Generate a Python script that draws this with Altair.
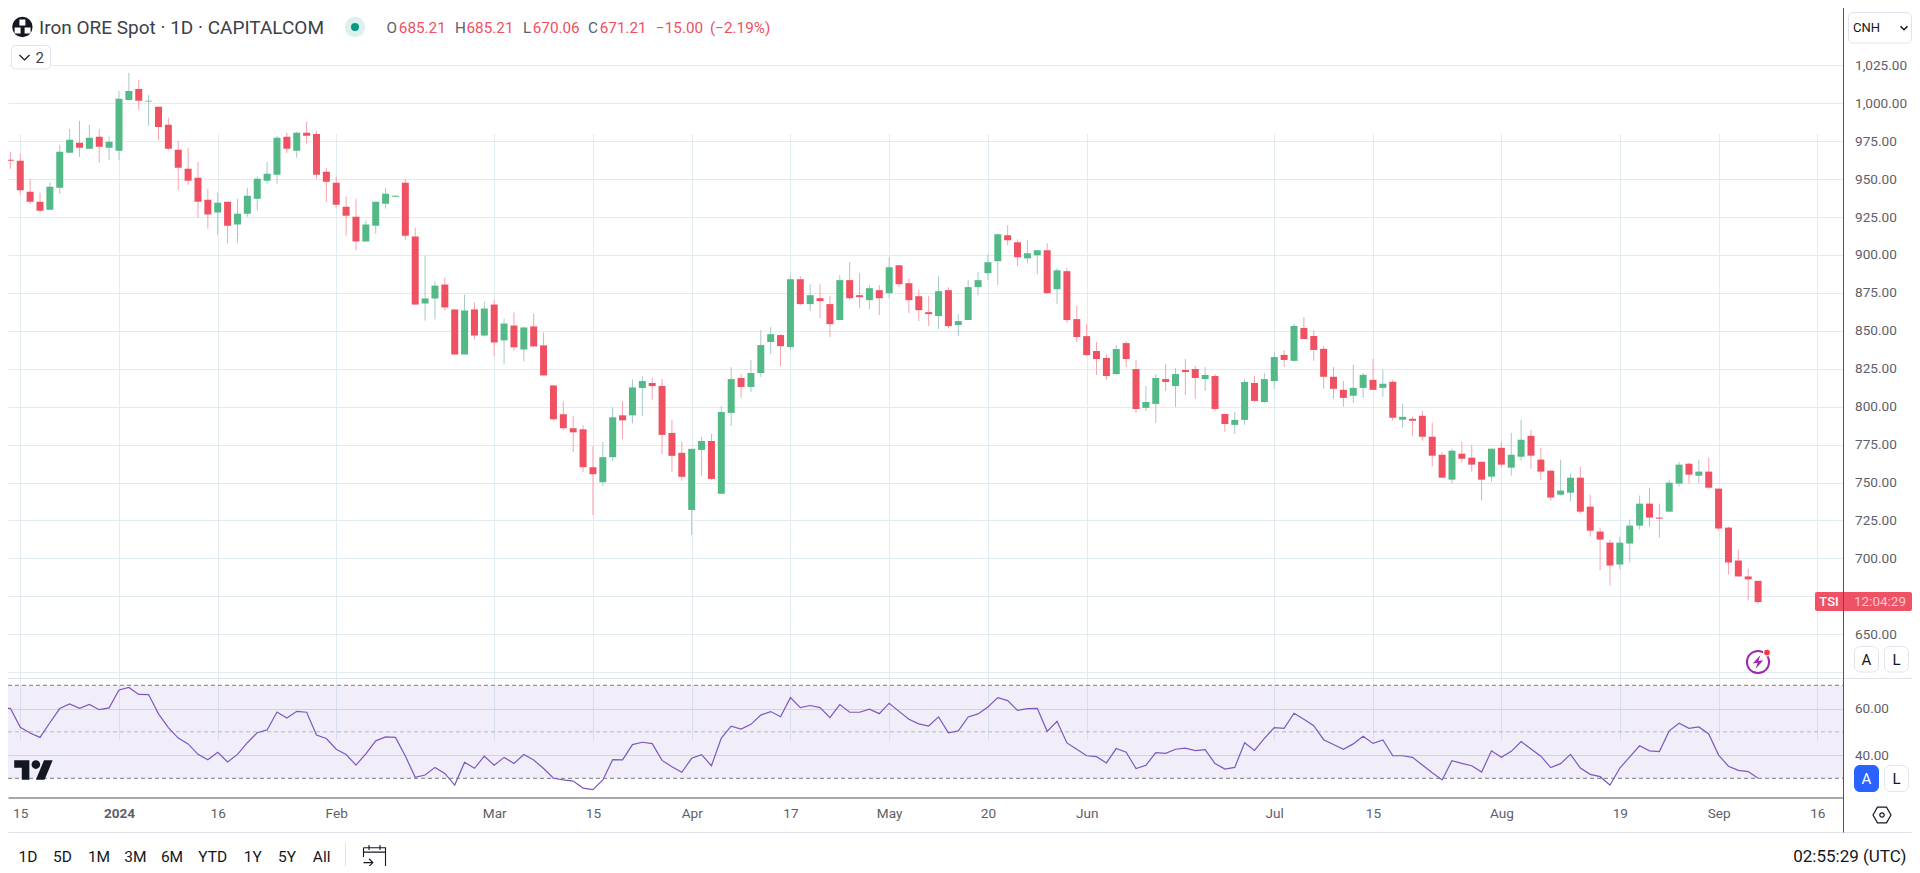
import altair as alt
import pandas as pd

# ---------- data ----------
opens = [
970.0,962.7,962.1,941.7,935.1,929.8,944.3,967.3,973.9,970.0,
977.9,970.6,968.7,1002.2,1009.4,1001.1,997.6,985.8,969.3,956.8,
950.9,936.4,927.9,935.1,920.0,927.2,937.1,948.9,952.9,977.9,
968.7,980.5,979.8,954.8,947.6,931.8,925.2,908.8,919.3,933.8,
938.4,947.6,912.1,868.0,871.3,880.5,864.1,834.4,864.1,846.9,
867.3,843.7,853.5,837.7,852.9,840.4,814.0,795.0,785.8,785.1,
760.1,750.2,766.7,794.3,794.3,812.3,815.6,813.6,782.7,769.6,
731.9,771.5,777.4,742.6,795.9,818.9,813.0,822.2,842.6,847.2,
839.3,884.0,867.6,871.5,867.6,857.1,883.4,873.5,870.2,876.8,
874.8,893.2,881.4,872.8,862.3,859.7,876.8,853.8,857.1,878.8,
888.0,895.9,913.0,908.4,897.8,899.8,903.1,877.4,889.3,857.7,
846.5,836.7,832.1,821.5,841.9,824.8,799.2,801.8,818.2,813.6,
824.2,824.8,818.2,820.2,795.2,788.0,791.3,815.6,803.1,816.9,
834.1,830.2,851.9,846.6,838.1,819.7,811.1,807.2,812.4,817.7,
812.4,816.4,791.4,792.0,794.0,780.2,768.3,751.9,769.0,766.4,
763.7,753.9,772.9,759.8,767.0,780.8,765.1,757.8,742.0,743.3,
753.2,734.1,717.7,710.4,696.0,709.8,721.6,736.1,726.9,730.8,
749.3,762.4,754.5,757.2,746.0,720.3,698.6,688.1,685.21]

highs = [
974.8,968.0,966.7,950.2,941.0,947.8,972.6,983.1,988.4,985.8,
983.1,977.9,1008.1,1020.0,1015.4,1005.5,997.6,990.4,975.2,970.6,
961.4,943.7,941.0,935.1,937.1,944.3,951.8,961.4,978.5,980.5,
981.2,987.7,981.8,957.5,951.6,938.4,937.1,922.6,935.1,944.3,
939.1,950.2,918.0,899.6,882.5,885.1,864.1,873.9,868.7,869.3,
870.6,858.1,862.1,852.9,861.4,848.9,814.0,803.5,793.7,787.7,
773.9,776.6,799.6,803.5,818.0,820.2,818.9,818.2,791.3,776.8,
772.2,780.1,782.1,800.5,826.1,821.5,830.7,850.5,852.4,847.8,
886.7,886.0,880.7,880.7,872.8,886.7,895.2,888.0,880.1,880.1,
898.5,893.2,884.7,877.4,872.8,886.0,878.8,861.0,883.4,888.6,
900.5,914.3,919.6,910.3,909.7,903.1,907.7,891.3,891.3,866.3,
854.4,842.6,834.7,840.6,843.2,830.7,813.6,821.5,828.1,825.5,
831.4,826.8,826.1,821.5,795.2,796.5,818.2,820.2,822.2,836.0,
837.4,854.5,859.1,850.5,840.1,826.2,817.0,827.6,822.3,831.5,
824.3,817.7,801.9,793.3,797.3,789.4,769.7,772.3,776.9,774.9,
763.7,772.3,776.9,782.8,791.4,784.8,772.9,758.5,765.1,755.8,
760.4,742.0,720.3,712.4,714.4,725.6,741.4,746.6,736.1,751.9,
763.7,763.1,765.1,766.4,746.0,721.0,705.8,693.3,685.21]

lows = [
955.5,956.8,939.7,933.8,927.9,929.8,940.4,967.3,964.7,970.0,
960.8,962.7,962.7,1002.2,995.6,985.1,975.9,969.3,943.0,946.3,
924.6,917.3,913.4,907.5,908.1,925.2,929.2,946.9,946.9,967.3,
964.1,973.3,950.2,935.1,931.2,912.7,902.9,908.8,914.1,930.5,
938.4,910.1,867.3,856.8,857.5,863.4,834.4,834.4,844.3,846.3,
833.1,827.9,837.1,829.8,839.7,820.6,791.0,784.4,770.0,756.8,
728.5,747.6,764.1,778.5,789.0,793.9,804.4,768.9,757.1,751.1,
715.4,754.4,751.8,742.6,787.3,805.7,809.7,819.6,834.7,826.8,
837.3,866.9,863.0,858.4,845.9,857.1,870.2,864.9,864.3,860.3,
871.5,878.8,861.7,856.4,853.1,851.1,851.8,846.5,857.1,873.5,
883.4,880.1,906.4,892.6,894.6,887.3,874.2,867.6,855.1,842.6,
833.4,820.9,817.6,820.9,826.1,795.9,797.2,789.3,810.3,799.8,
807.7,805.1,810.3,797.2,783.4,782.1,788.0,803.1,802.4,811.7,
826.2,830.2,844.6,830.2,811.8,805.2,799.9,802.6,805.8,811.1,
806.5,790.7,786.1,780.8,777.6,760.4,753.2,749.3,763.1,757.2,
738.1,750.6,759.8,754.5,764.4,759.1,751.9,738.1,741.4,737.4,
729.5,714.4,692.0,682.2,692.7,697.3,719.0,721.0,713.7,730.8,
747.3,749.3,749.3,746.0,718.3,689.4,688.1,672.3,670.06]

closes = [
961.0,962.1,942.6,935.1,929.2,945.0,968.0,975.9,970.6,977.2,
971.3,974.6,1002.9,1008.1,1001.6,1001.6,984.4,970.0,957.5,948.9,
935.1,926.6,934.4,919.3,927.2,939.1,950.2,953.5,977.2,970.0,
980.5,978.5,952.9,948.3,933.1,925.9,908.8,920.0,935.1,940.4,
939.1,912.7,867.3,871.3,879.8,865.4,834.4,863.4,846.9,864.7,
842.3,854.8,839.1,852.2,839.7,820.6,791.7,785.8,783.1,760.1,
755.5,766.7,793.0,791.0,812.7,816.9,813.6,781.4,767.6,753.8,
772.2,777.4,752.4,796.5,818.2,813.0,822.2,840.6,847.8,839.9,
884.0,867.6,873.5,869.6,854.4,883.4,871.5,872.2,878.1,871.5,
891.9,880.7,870.2,863.6,861.0,876.1,853.1,856.4,878.8,883.4,
895.2,913.6,909.7,898.5,901.1,903.1,874.8,889.9,857.1,845.9,
834.0,831.4,820.2,838.0,831.4,798.5,803.1,818.9,816.3,821.5,
822.8,818.9,820.9,798.5,788.6,791.3,816.3,803.8,818.2,832.7,
830.8,853.2,844.6,837.4,819.7,811.8,805.8,812.4,821.0,811.1,
815.1,792.7,793.3,790.7,780.2,767.7,753.2,771.0,765.7,761.8,
751.9,772.3,761.8,768.3,778.2,767.7,757.2,740.1,744.7,753.2,
730.8,718.3,712.4,695.3,710.4,721.6,736.1,726.9,726.2,749.9,
761.8,755.2,757.2,746.6,719.7,697.3,688.1,686.21,671.21]

rsi = [
60.0,60.1,51.9,49.5,47.6,53.9,60.0,62.0,60.1,61.8,
59.5,60.3,68.0,69.1,66.1,66.0,57.7,51.8,47.3,44.8,
40.3,38.0,41.2,37.0,40.3,45.3,49.6,50.8,58.5,55.9,
58.8,58.4,48.6,47.1,42.5,40.2,35.7,40.5,46.1,47.8,
47.6,39.6,30.4,31.4,34.7,32.1,27.1,36.9,34.3,39.5,
35.6,39.0,36.4,40.2,37.9,34.2,30.0,29.3,28.8,25.8,
25.1,29.3,38.0,37.9,44.5,45.5,44.9,37.7,35.0,32.6,
38.6,40.2,35.4,47.3,52.4,51.2,53.2,57.2,58.7,56.5,
64.7,60.4,61.3,60.4,56.1,61.7,58.4,58.4,59.7,57.8,
62.3,58.8,55.4,53.4,52.5,56.4,49.6,50.4,56.4,57.7,
60.7,64.7,63.4,59.2,60.0,60.1,50.2,54.5,45.2,42.5,
39.7,39.3,36.6,42.8,41.2,34.2,35.6,41.0,40.7,42.5,
43.0,41.9,42.3,36.3,34.0,34.7,45.3,42.0,47.2,51.8,
51.5,58.0,55.4,52.6,46.6,44.5,42.5,44.8,48.1,45.0,
46.5,39.7,39.7,39.0,35.7,32.4,29.3,37.6,36.4,35.4,
32.7,41.8,39.0,41.6,45.8,42.6,39.5,34.6,36.3,40.3,
34.4,31.7,30.7,27.1,34.4,39.2,44.0,41.8,41.5,50.4,
53.7,51.5,52.1,49.1,40.0,35.2,33.4,32.9,30.0]

assert len(opens) == len(highs) == len(lows) == len(closes) == len(rsi) == 179

time_ticks = [2, 12, 22, 34, 50, 60, 70, 80, 90, 100, 110, 129, 139, 152, 164, 174, 184]
time_labels = ["15", "2024", "16", "Feb", "Mar", "15", "Apr", "17", "May", "20", "Jun", "Jul", "15", "Aug", "19", "Sep", "16"]
price_ticks = [625 + 25 * k for k in range(17)]
rsi_ticks = [40, 60]
range_buttons = ["1D", "5D", "1M", "3M", "6M", "YTD", "1Y", "5Y", "All"]

# ---------- layout ----------
W, H = 1835.5, 789.5
FONT = "Roboto"
GREEN, RED = "#53b987", "#ef5062"
GREEN_W, RED_W = "#a6c9c9", "#f8a3ae"
GRID = "#e1ecf2"
LINE = "#e0e3eb"
AXIS = "#50535e"
TXT = "#5d606b"
INK = "#131722"

df = pd.DataFrame({"i": range(179), "open": opens, "high": highs, "low": lows, "close": closes, "rsi": rsi})
df["top"] = df[["open", "close"]].max(axis=1)
df["bot"] = df[["open", "close"]].min(axis=1)

xs = alt.Scale(domain=[0.759, 186.65], range=[0, W], nice=False, zero=False, padding=0)
ps = alt.Scale(domain=[625, 1025], range=[664.2, 57.3], nice=False, zero=False)
rs = alt.Scale(domain=[30, 70], range=[770.3, 677.3], nice=False, zero=False)
up = "datum.close >= datum.open"

base = alt.Chart(df)
xaxis = alt.Axis(values=time_ticks, grid=True, gridColor=GRID, gridWidth=1, ticks=False,
                 domainColor=AXIS, domainWidth=1, labelColor=TXT, labelFont=FONT, labelFontSize=13.6,
                 labelPadding=9, labelOverlap=False, labelFlush=False, title=None,
                 labelExpr="%s[indexof(%s, datum.value)]" % (time_labels, time_ticks),
                 labelFontWeight=alt.condition("datum.value == 12", alt.value(700), alt.value(400)))
x_plain = alt.X("i:Q", scale=xs, axis=xaxis)

price_axis = base.mark_rule(opacity=0).encode(
    x=x_plain,
    y=alt.Y("high:Q", scale=ps, axis=alt.Axis(orient="right", values=price_ticks, grid=True, gridColor=GRID,
            ticks=False, domain=False, labelColor=TXT, labelFont=FONT, labelFontSize=13.6, labelPadding=11,
            labelOverlap=False, title=None,
            labelExpr="datum.value < 630 ? '' : format(datum.value, ',.2f')")))
wicks = base.mark_rule(strokeWidth=1, clip=True).encode(
    x=x_plain,
    y=alt.Y("high:Q", scale=ps, axis=None), y2="low:Q",
    color=alt.condition(up, alt.value(GREEN_W), alt.value(RED_W)))
bodies = base.mark_bar(size=7, clip=True).encode(
    x=x_plain,
    y=alt.Y("top:Q", scale=ps, axis=None), y2="bot:Q",
    color=alt.condition(up, alt.value(GREEN), alt.value(RED)))

# RSI pane
rsi_axis = base.mark_rule(opacity=0).encode(
    x=x_plain,
    y=alt.Y("rsi:Q", scale=rs, axis=alt.Axis(orient="right", values=rsi_ticks, grid=True, gridColor="#dbe0ef",
            ticks=False, domain=False, labelColor=TXT, labelFont=FONT, labelFontSize=13.5, labelPadding=11,
            title=None, format=".2f")))
band = alt.Chart(pd.DataFrame({"a": [70], "b": [30]})).mark_rect(color="#7e57c2", opacity=0.1).encode(
    x=alt.value(0), x2=alt.value(W),
    y=alt.Y("a:Q", scale=rs, axis=None), y2="b:Q")
def level(v, color):
    return alt.Chart(pd.DataFrame({"v": [v]})).mark_rule(strokeDash=[4, 3], strokeWidth=1, color=color).encode(
        x=alt.value(0), x2=alt.value(W), y=alt.Y("v:Q", scale=rs, axis=None))
rsi_line = base.mark_line(color="#7e57c2", strokeWidth=1.2, clip=True).encode(
    x=x_plain, y=alt.Y("rsi:Q", scale=rs, axis=None))

# ---------- page furniture (positions are page px; chart origin sits at 8,8) ----------
one = alt.Data(values=[{"k": 1}])
def px(v): return alt.value(v - 8)
def text(s, x, y, color=INK, size=13, align="left", weight=400, font=FONT):
    return alt.Chart(one).mark_text(align=align, baseline="middle", fontSize=size, font=font,
                                    fontWeight=weight, color=color).encode(x=px(x), y=px(y), text=alt.value(s))
def box(x1, x2, y1, y2, fill="#ffffff", stroke=None, r=0):
    kw = {"fill": fill, "cornerRadius": r}
    if stroke:
        kw.update(stroke=stroke, strokeWidth=1)
    return alt.Chart(one).mark_rect(**kw).encode(x=px(x1), x2=px(x2), y=px(y1), y2=px(y2))
def hline(x1, x2, y, color=LINE):
    return alt.Chart(one).mark_rule(color=color, strokeWidth=1).encode(x=px(x1), x2=px(x2), y=px(y))
def vline(x, y1, y2, color=AXIS):
    return alt.Chart(one).mark_rule(color=color, strokeWidth=1).encode(x=px(x), y=px(y1), y2=px(y2))
def sym(shape, x, y, w, fill=None, stroke=None, sw=1.5):
    kw = {"shape": shape, "size": w * w}
    if fill:
        kw.update(filled=True, fill=fill, stroke=None, opacity=1)
    else:
        kw.update(filled=False, stroke=stroke, strokeWidth=sw, opacity=1)
    return alt.Chart(one).mark_point(**kw).encode(x=px(x), y=px(y))
def dot(x, y, r, fill=None, stroke=None, sw=1.5):
    kw = {"shape": "circle", "size": 3.14159 * r * r}
    if fill:
        kw.update(filled=True, fill=fill, opacity=1)
    else:
        kw.update(filled=False, stroke=stroke, strokeWidth=sw, opacity=1)
    return alt.Chart(one).mark_point(**kw).encode(x=px(x), y=px(y))

TV_LOGO = ("M-0.222,0.5H-0.611V-0.111H-1V-0.5H-0.222Z M0.556,0.5H0.111L0.528,-0.5H0.972Z "
           "M-0.111,-0.278a0.222,0.222 0 1 0 0.444,0a0.222,0.222 0 1 0 -0.444,0Z")
BOLT = "M0.35,-1L-0.75,0.2L-0.05,0.1L-0.35,1L0.75,-0.25L0.05,-0.15Z"
CHEV = "M-1,-0.5L0,0.5L1,-0.5"
HEX = "M-1,0L-0.5,-0.87H0.5L1,0L0.5,0.87H-0.5Z"
CAL = ("M-1,-0.35H1 M-1,-0.75H1V1H-0.1 M-1,-0.75V0.1 M-0.5,-1V-0.55 M0.5,-1V-0.55 "
       "M-1,0.6H-0.2 M-0.5,0.25L-0.15,0.6L-0.5,0.95")
HDR = 15.3

furn = [
    hline(8, 1912, 678.5),
    hline(8, 1912, 832.5),
    # header
    dot(22.4, 27, 11.5, fill="#131722"),
    sym("M-1,-1H1V1H-1Z", 22.4, 22.5, 6, fill="#ffffff"),
    sym("M-1,-1H1V1H-1Z", 17.6, 30.5, 6, fill="#ffffff"),
    sym("M-1,-1H1V1H-1Z", 27.6, 30.5, 6, fill="#ffffff"),
    text("Iron ORE Spot · 1D · CAPITALCOM", 39, 28, color="#3c3f49", size=19),
    dot(355, 27, 11.5, fill="#dcf1ee"),
    dot(355, 27, 4.5, fill="#089981"),
    text("O", 386.5, 27.5, color=TXT, size=HDR),
    text("685.21", 398.8, 27.5, color=RED, size=HDR),
    text("H", 455, 27.5, color=TXT, size=HDR),
    text("685.21", 466.5, 27.5, color=RED, size=HDR),
    text("L", 523, 27.5, color=TXT, size=HDR),
    text("670.06", 532.7, 27.5, color=RED, size=HDR),
    text("C", 588, 27.5, color=TXT, size=HDR),
    text("671.21", 599.7, 27.5, color=RED, size=HDR),
    text("−15.00", 656, 27.5, color=RED, size=HDR),
    text("(−2.19%)", 710, 27.5, color=RED, size=HDR),
    box(11.5, 50.5, 45.5, 69, stroke=LINE, r=4),
    sym(CHEV, 24.5, 57.5, 10, stroke=INK, sw=1.2),
    text("2", 35.5, 57.5, color="#3c3f49", size=15),
    # currency button
    box(1848.5, 1911.5, 12.5, 43, stroke=LINE, r=5),
    text("CNH", 1853, 27.5, size=13),
    sym(CHEV, 1904, 28, 7, stroke=INK, sw=1.5),
    # price tag
    box(1815, 1912, 592, 611, fill="#ef5265", r=2),
    text("TSI", 1829, 602, color="#ffffff", size=13, align="center", weight=500),
    text("12:04:29", 1880, 602, color="#fbc8cf", size=13.5, align="center"),
    vline(1843.5, 8, 832.5),
    # bolt badge
    dot(1758, 662, 12.5, stroke="#9c27b0", sw=2),
    sym(BOLT, 1758, 662, 14, fill="#9c27b0"),
    dot(1767, 652.5, 4.5, fill="#ffffff"),
    dot(1767, 652.5, 3.2, fill="#f23645"),
    # A / L
    box(1854.5, 1878.5, 646.5, 672, stroke=LINE, r=6),
    text("A", 1866.5, 660, size=15, align="center"),
    box(1884.5, 1908.5, 646.5, 672, stroke=LINE, r=6),
    text("L", 1896.5, 660, size=15, align="center"),
    box(1854, 1879, 765, 792, fill="#2962ff", r=6),
    text("A", 1866.5, 779, color="#ffffff", size=15, align="center"),
    box(1884.5, 1908.5, 765.5, 791.5, stroke=LINE, r=6),
    text("L", 1896.5, 779, size=15, align="center"),
    # settings
    sym(HEX, 1882, 815, 18, stroke=INK, sw=1.2),
    dot(1882, 815, 2.5, stroke=INK, sw=1.2),
    # logo
    sym(TV_LOGO, 33.7, 770, 39, fill="#131722"),
    # footer
    vline(345.5, 843, 866, color=LINE),
    sym(CAL, 374.5, 856, 22, stroke=INK, sw=1.1),
    text("02:55:29 (UTC)", 1906.5, 857, size=17, align="right"),
]
for label, cx in zip(range_buttons, [28, 62.4, 99, 135.3, 172, 212.7, 252.7, 287, 321.6]):
    furn.append(text(label, cx, 857, size=15.5, align="center"))

chart = alt.layer(
    price_axis, rsi_axis, band, wicks, bodies,
    level(70, "#787b86"), level(50, "#b5b7c0"), level(30, "#787b86"), rsi_line, *furn
).resolve_scale(y="independent").properties(
    width=W, height=H,
    autosize=alt.AutoSizeParams(type="none"),
    padding={"left": 0, "top": 0, "right": 68.5, "bottom": 68.5},
    background="#ffffff",
).configure_view(stroke=None)

chart.save("out.html", embed_options={"renderer": "svg", "actions": False})
